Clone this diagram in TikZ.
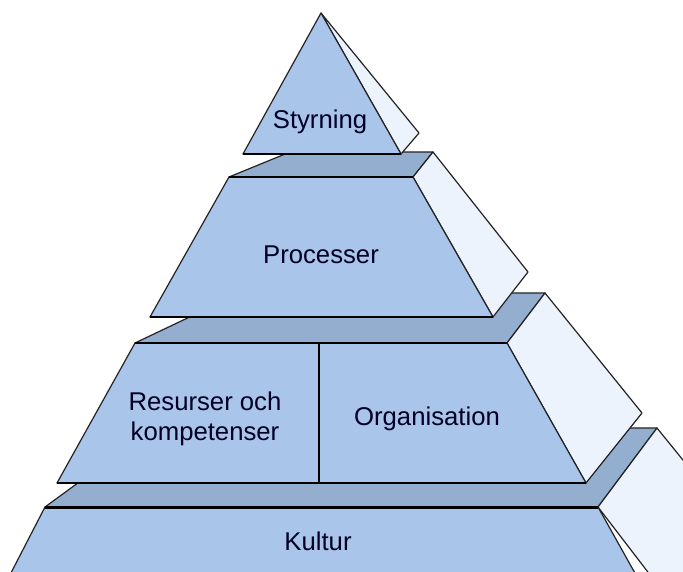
\documentclass[tikz,border=0pt]{standalone}
\usepackage{fontspec}
\setmainfont{Liberation Sans}
\definecolor{frontc}{RGB}{170,197,234}
\definecolor{platec}{RGB}{148,174,207}
\definecolor{sidec}{RGB}{236,243,252}
\definecolor{edgec}{RGB}{35,35,35}
\begin{document}
\begin{tikzpicture}[x=1pt,y=-1pt,
  face/.style={draw=edgec,line width=1.2pt,line join=round},
  frontface/.style={face,fill=frontc},
  plateface/.style={face,fill=platec},
  sideface/.style={face,fill=sidec},
  topedge/.style={draw=black,line width=1.6pt},
  lbl/.style={font=\fontsize{25.7}{30}\selectfont,text=black!85!blue,anchor=base,inner sep=0pt,align=center}]
\useasboundingbox (0,0) rectangle (683,571);
\clip (0,0) rectangle (683,571);
\fill[white] (0,0) rectangle (683,571);
% tier 4 (Kultur)
\path[plateface] (45,507) -- (153,428) -- (657,428) -- (598,507) -- cycle;
\path[sideface] (598,507) -- (657,428) -- (760,555) -- (700,640) -- cycle;
\path[frontface] (45,507) -- (598,507) -- (650,600) -- (-3,600) -- cycle;
\draw[black,line width=3pt] (45,507) -- (598,507);
% tier 3
\path[plateface] (135,343) -- (240,293) -- (545,293) -- (507,343) -- cycle;
\path[sideface] (507,343) -- (545,293) -- (642,413) -- (586,483) -- cycle;
\path[frontface] (135,343) -- (507,343) -- (586,483) -- (57,483) -- cycle;
\draw[topedge] (135,343) -- (507,343);
\draw[topedge] (57,483) -- (586,483);
\draw[black,line width=1.4pt] (319,343) -- (319,483);
% tier 2
\path[plateface] (229,177) -- (290,152) -- (433,152) -- (413,177) -- cycle;
\path[sideface] (413,177) -- (433,152) -- (528,272) -- (493,317) -- cycle;
\path[frontface] (229,177) -- (413,177) -- (493,317) -- (150,317) -- cycle;
\draw[topedge] (229,177) -- (413,177);
\draw[topedge] (150,317) -- (493,317);
% apex
\path[sideface] (321,13) -- (419,133) -- (401,154) -- cycle;
\path[frontface] (321,13) -- (401,154) -- (243,154) -- cycle;
\draw[topedge] (243,154) -- (401,154);
% labels
\node[lbl] (styrning) at (320,128) {Styrning};
\node[lbl] (processer) at (321,263) {Processer};
\node[lbl] (resurser) at (205,410) {Resurser och};
\node[lbl] (kompetenser) at (205,440) {kompetenser};
\node[lbl] (organisation) at (427,425) {Organisation};
\node[lbl] (kultur) at (318,550) {Kultur};
\end{tikzpicture}
\end{document}
